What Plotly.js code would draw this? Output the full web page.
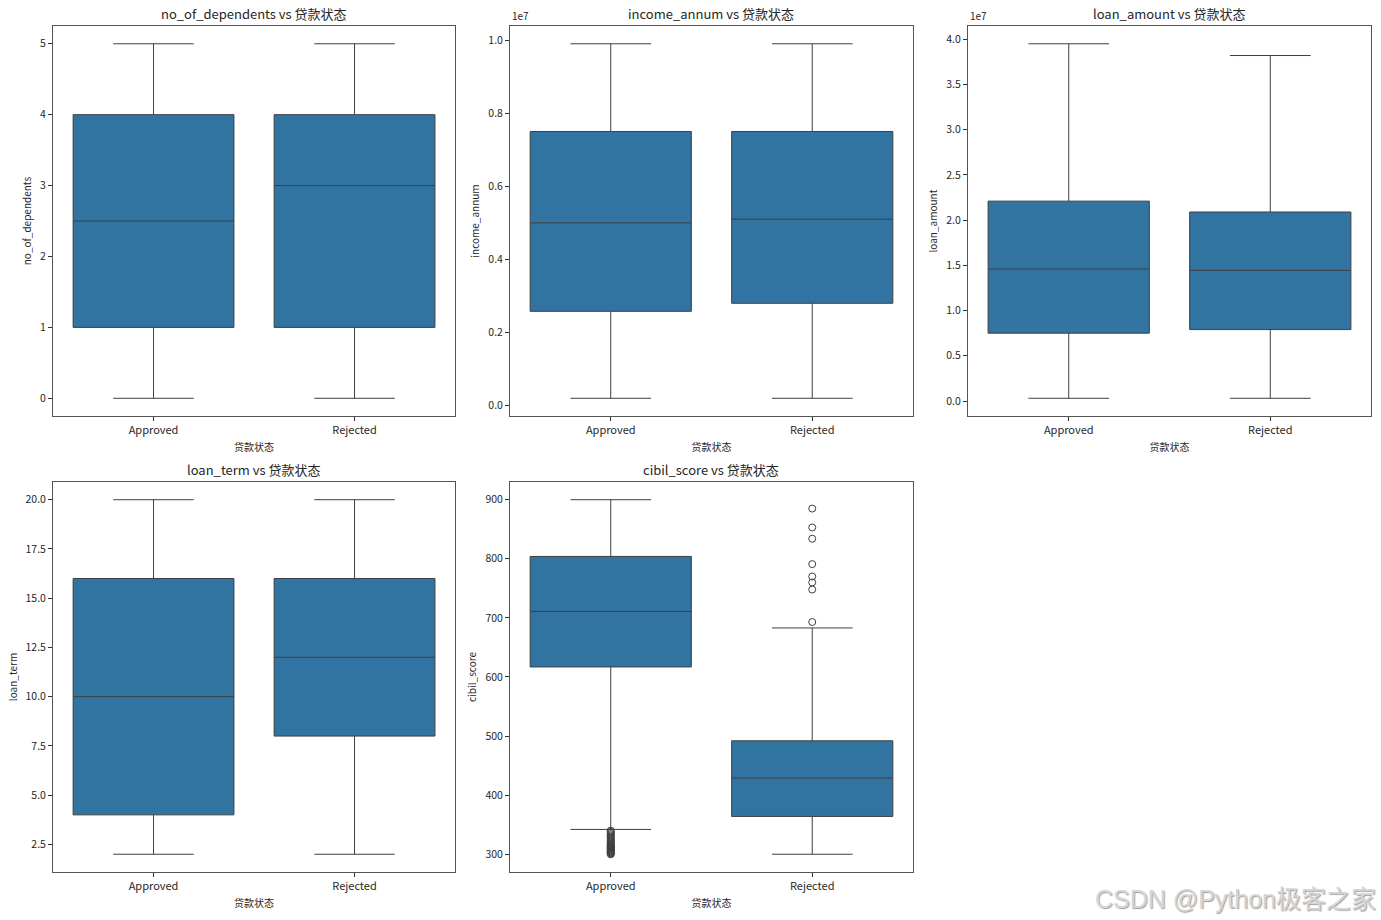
<!DOCTYPE html>
<html>
<head>
<meta charset="utf-8">
<script src="https://cdn.plot.ly/plotly-3.0.1.min.js"></script>
<style>html,body{margin:0;padding:0;background:#fff;}#chart{width:1381px;height:920px;}</style>
</head>
<body>
<div id="chart"></div>
<script>
// ---------- data ----------
const categories = ['Approved', 'Rejected'];
const xTitle = '贷款状态';

// no_of_dependents
const depLow = [0, 0];
const depQ1 = [1, 1];
const depMed = [2.5, 3];
const depQ3 = [4, 4];
const depHigh = [5, 5];

// income_annum
const incLow = [200000, 200000];
const incQ1 = [2580000, 2800000];
const incMed = [5000000, 5100000];
const incQ3 = [7500000, 7500000];
const incHigh = [9900000, 9900000];
const incTickVals = [0, 2000000, 4000000, 6000000, 8000000, 10000000];
const incTickText = ['0.0', '0.2', '0.4', '0.6', '0.8', '1.0'];

// loan_amount
const amtLow = [300000, 300000];
const amtQ1 = [7500000, 7900000];
const amtMed = [14600000, 14450000];
const amtQ3 = [22100000, 20900000];
const amtHigh = [39500000, 38200000];
const amtTickVals = [0, 5000000, 10000000, 15000000, 20000000, 25000000, 30000000, 35000000, 40000000];
const amtTickText = ['0.0', '0.5', '1.0', '1.5', '2.0', '2.5', '3.0', '3.5', '4.0'];

// loan_term
const termLow = [2, 2];
const termQ1 = [4, 8];
const termMed = [10, 12];
const termQ3 = [16, 16];
const termHigh = [20, 20];
const termTickVals = [2.5, 5, 7.5, 10, 12.5, 15, 17.5, 20];
const termTickText = ['2.5', '5.0', '7.5', '10.0', '12.5', '15.0', '17.5', '20.0'];

// cibil_score
const cibLow = [342, 300];
const cibQ1 = [617, 364];
const cibMed = [711, 429];
const cibQ3 = [804, 492];
const cibHigh = [900, 683];
const cibOutApproved = [300, 301, 302, 303, 304, 305, 306, 307, 308, 309, 310, 311, 312, 313, 314, 315, 316, 318, 320, 322, 324, 326, 328, 330, 332, 334, 336, 338, 340];
const cibOutRejected = [885, 853, 834, 791, 770, 760, 748, 693];

const xLabel = 'Approved';
const yLabel = 'Rejected';

// ---------- styling ----------
const FONT = '"Noto Sans CJK SC", "Noto Sans", sans-serif';
const BOX_FILL = '#3274a1';
const EDGE = '#3f3f3f';
const TXT = '#262626';

const cols = [[0.0384, 0.3295], [0.3693, 0.6611], [0.7009, 0.9928]];
const rows = [[0.5478, 0.9717], [0.0522, 0.4761]];

function boxTrace(ax, low, q1, med, q3, high) {
  return {
    type: 'box', x: categories, q1: q1, median: med, q3: q3,
    lowerfence: low, upperfence: high, boxpoints: false,
    fillcolor: BOX_FILL, line: {color: EDGE, width: 1},
    width: 0.8, whiskerwidth: 0.5, hoverinfo: 'skip',
    xaxis: 'x' + ax, yaxis: 'y' + ax, showlegend: false
  };
}
function outTrace(ax, cat, vals) {
  return {
    type: 'scatter', mode: 'markers', x: vals.map(() => cat), y: vals,
    marker: {symbol: 'circle-open', size: 7, color: EDGE, line: {width: 1, color: EDGE}},
    xaxis: 'x' + ax, yaxis: 'y' + ax, showlegend: false, hoverinfo: 'skip'
  };
}

const traces = [
  boxTrace('', depLow, depQ1, depMed, depQ3, depHigh),
  boxTrace('2', incLow, incQ1, incMed, incQ3, incHigh),
  boxTrace('3', amtLow, amtQ1, amtMed, amtQ3, amtHigh),
  boxTrace('4', termLow, termQ1, termMed, termQ3, termHigh),
  boxTrace('5', cibLow, cibQ1, cibMed, cibQ3, cibHigh),
  outTrace('5', xLabel, cibOutApproved),
  outTrace('5', yLabel, cibOutRejected)
];

function xa(col, row, anchor) {
  return {
    domain: cols[col], anchor: anchor, type: 'category', categoryorder: 'array', categoryarray: categories,
    range: [-0.5, 1.5], showgrid: false, zeroline: false, showline: true, mirror: true,
    linecolor: '#555', linewidth: 1, ticks: 'outside', ticklen: 4, tickcolor: '#333',
    tickfont: {family: FONT, size: 11, color: TXT},
    title: {text: xTitle, font: {family: FONT, size: 10, color: TXT}, standoff: 7}
  };
}
function ya(row, anchor, title, range, tv, tt, dtick) {
  const o = {
    domain: rows[row], anchor: anchor, range: range, showgrid: false, zeroline: false,
    showline: true, mirror: true, linecolor: '#555', linewidth: 1, ticks: 'outside', ticklen: 4,
    tickcolor: '#333', tickfont: {family: FONT, size: 10.5, color: TXT},
    title: {text: title, font: {family: FONT, size: 10, color: TXT}, standoff: 6}
  };
  if (tv) { o.tickmode = 'array'; o.tickvals = tv; o.ticktext = tt; }
  if (dtick) { o.dtick = dtick; o.tick0 = 0; }
  return o;
}

const titles = [
  {t: 'no_of_dependents vs 贷款状态', c: 0, r: 0},
  {t: 'income_annum vs 贷款状态', c: 1, r: 0},
  {t: 'loan_amount vs 贷款状态', c: 2, r: 0},
  {t: 'loan_term vs 贷款状态', c: 0, r: 1},
  {t: 'cibil_score vs 贷款状态', c: 1, r: 1}
];
const annotations = titles.map(o => ({
  text: o.t, xref: 'paper', yref: 'paper', x: (cols[o.c][0] + cols[o.c][1]) / 2, y: rows[o.r][1],
  xanchor: 'center', yanchor: 'bottom', yshift: 1, showarrow: false,
  font: {family: FONT, size: 13, color: TXT}
}));
annotations.push({text: '1e7', xref: 'paper', yref: 'paper', x: cols[1][0], y: rows[0][1], xanchor: 'left', yanchor: 'bottom', yshift: 1, showarrow: false, font: {family: FONT, size: 10, color: TXT}});
annotations.push({text: '1e7', xref: 'paper', yref: 'paper', x: cols[2][0], y: rows[0][1], xanchor: 'left', yanchor: 'bottom', yshift: 1, showarrow: false, font: {family: FONT, size: 10, color: TXT}});
annotations.push({text: 'CSDN @Python极客之家', xref: 'paper', yref: 'paper', x: 0.998, y: 0.0, xanchor: 'right', yanchor: 'bottom', yshift: 5, showarrow: false, font: {family: '"Liberation Sans", "Noto Sans CJK SC", sans-serif', size: 25, color: '#d6d6d6', shadow: '1px 1px 1px #a0a0a0'}});

const layout = {
  width: 1381, height: 920, margin: {l: 0, r: 0, t: 0, b: 0},
  paper_bgcolor: '#fff', plot_bgcolor: '#fff', showlegend: false,
  xaxis: xa(0, 0, 'y'), yaxis: ya(0, 'x', 'no_of_dependents', [-0.25, 5.25]),
  xaxis2: xa(1, 0, 'y2'), yaxis2: ya(0, 'x2', 'income_annum', [-285000, 10385000], incTickVals, incTickText),
  xaxis3: xa(2, 0, 'y3'), yaxis3: ya(0, 'x3', 'loan_amount', [-1660000, 41460000], amtTickVals, amtTickText),
  xaxis4: xa(0, 1, 'y4'), yaxis4: ya(1, 'x4', 'loan_term', [1.1, 20.9], termTickVals, termTickText),
  xaxis5: xa(1, 1, 'y5'), yaxis5: ya(1, 'x5', 'cibil_score', [270, 930], null, null, 100),
  annotations: annotations
};

Plotly.newPlot('chart', traces, layout, {staticPlot: true, displayModeBar: false});
</script>
</body>
</html>
